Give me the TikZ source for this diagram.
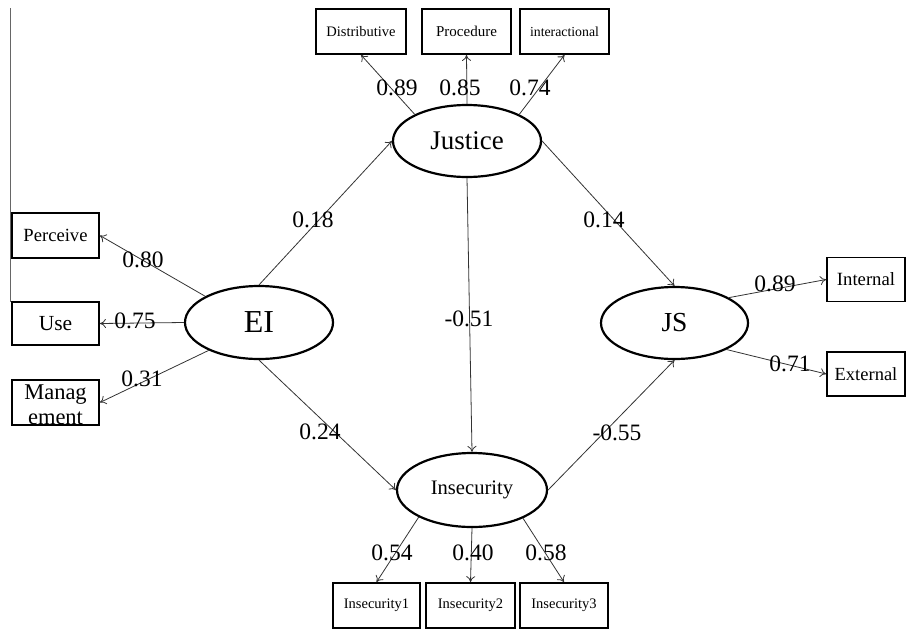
\documentclass[tikz,border=0pt]{standalone}
\usepackage{fontspec}
\setmainfont{Liberation Serif}
\usetikzlibrary{shapes.geometric,arrows.meta}
\newcommand\fsz[1]{\fontsize{#1}{#1}\selectfont}

\begin{document}
\begin{tikzpicture}[x=1pt,y=-1pt,
    lat/.style={draw,ellipse,line width=2.2pt,inner sep=0pt},
    ind/.style={draw,rectangle,line width=1.8pt,inner sep=0pt},
    path/.style={-{To[length=6pt,width=9pt]},draw=black!80,line width=0.8pt},
    coef/.style={font=\fsz{23.5},inner sep=0pt}]
    \useasboundingbox (0,0) rectangle (909,629);
    \draw[black!60,line width=0.8pt] (10,8) -- (10,302);
    % latent variables
    \node[lat,minimum width=148pt,minimum height=72pt,font=\fsz{27}] (justice) at (467,141) {Justice};
    \node[lat,minimum width=148pt,minimum height=73pt,font=\fsz{32}] (ei) at (259,322.5) {EI};
    \node[lat,minimum width=147pt,minimum height=72pt,font=\fsz{27.5}] (js) at (674.5,323) {JS};
    \node[lat,minimum width=150pt,minimum height=74pt,font=\fsz{20.6}] (insec) at (472,490) {Insecurity};
    % indicators
    \node[ind,minimum width=90pt,minimum height=45pt,font=\fsz{14.5}] (distr) at (361,31.5) {Distributive};
    \node[ind,minimum width=89pt,minimum height=45pt,font=\fsz{15}] (proc) at (466.5,31.5) {Procedure};
    \node[ind,minimum width=89pt,minimum height=45pt,font=\fsz{13.8}] (inter) at (564.5,31.5) {interactional};
    \node[ind,minimum width=87pt,minimum height=45pt,font=\fsz{18.6}] (perc) at (55.5,235.5) {Perceive};
    \node[ind,minimum width=87pt,minimum height=43pt,font=\fsz{21.5}] (use) at (55.5,323.5) {Use};
    \node[font=\fsz{22.5},align=center,inner sep=0pt,anchor=north] (mgtxt) at (55.5,385) {Manag\\[2.5pt]ement};
    \node[ind,minimum width=87pt,minimum height=45pt] (mgmt) at (55.5,402.5) {};
    \node[ind,minimum width=78pt,minimum height=44pt,font=\fsz{18.7}] (intl) at (866,279.5) {Internal};
    \node[ind,minimum width=78pt,minimum height=44pt,font=\fsz{18.5}] (extl) at (866,374) {External};
    \node[ind,minimum width=87pt,minimum height=45pt,font=\fsz{14.5}] (ins1) at (376.5,605.5) {Insecurity1};
    \node[ind,minimum width=89pt,minimum height=45pt,font=\fsz{14.5}] (ins2) at (470.5,605.5) {Insecurity2};
    \node[ind,minimum width=88pt,minimum height=45pt,font=\fsz{14.5}] (ins3) at (564,605.5) {Insecurity3};
    % paths
    \draw[path] (justice.153) -- (distr.south);
    \draw[path] (justice.north) -- (proc.south);
    \draw[path] (justice.27) -- (inter.south);
    \draw[path] (ei.154) -- (perc.east);
    \draw[path] (ei.west) -- (use.east);
    \draw[path] (ei.209) -- (mgmt.east);
    \draw[path] (ei.north) -- (justice.west);
    \draw[path] (ei.south) -- (insec.west);
    \draw[path] (justice.east) -- (js.north);
    \draw[path] (justice.south) -- (insec.north);
    \draw[path] (insec.east) -- (js.south);
    \draw[path] (js.25) -- (intl.west);
    \draw[path] (js.333) -- (extl.west);
    \draw[path] (insec.207) -- (ins1.north);
    \draw[path] (insec.south) -- (ins2.north);
    \draw[path] (insec.331) -- (ins3.north);
    % coefficients
    \node[coef] (cd) at (397,88) {0.89};
    \node[coef] (cp) at (460,88) {0.85};
    \node[coef] (ci) at (530,88) {0.74};
    \node[coef] (cpe) at (143,260) {0.80};
    \node[coef] (cu) at (135,321) {0.75};
    \node[coef] (cm) at (142,379) {0.31};
    \node[coef] (cej) at (313,220) {0.18};
    \node[coef] (cei) at (320,432) {0.24};
    \node[coef] (cjs) at (604,220) {0.14};
    \node[coef] (cji) at (469,319) {-0.51};
    \node[coef] (cis) at (617,433) {-0.55};
    \node[coef] (cin) at (775,284) {0.89};
    \node[coef] (cex) at (790,364) {0.71};
    \node[coef] (c1) at (392,553) {0.54};
    \node[coef] (c2) at (473,553) {0.40};
    \node[coef] (c3) at (546,553) {0.58};
\end{tikzpicture}
\end{document}
